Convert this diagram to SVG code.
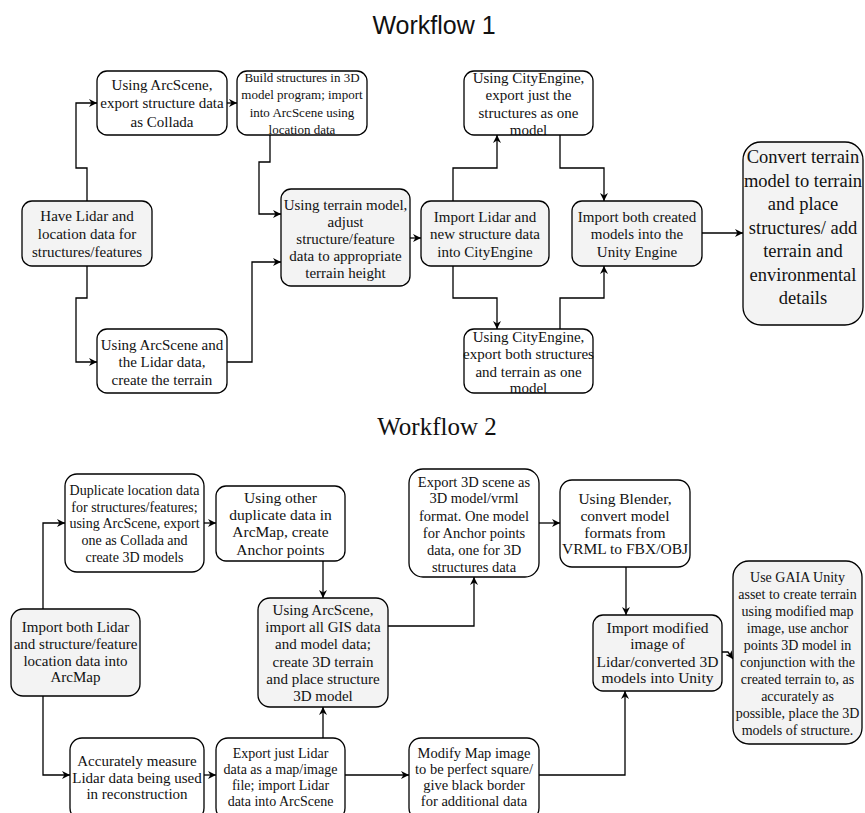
<svg xmlns="http://www.w3.org/2000/svg" width="865" height="813" viewBox="0 0 865 813">
<defs>
<marker id="arr" viewBox="0 0 10 10" refX="10" refY="5" markerWidth="8" markerHeight="8" markerUnits="userSpaceOnUse" orient="auto">
<path d="M0,0 L10,5 L0,10 L3,5 z" fill="#000"/>
</marker>
<style>
.w{fill:#fff;stroke:#000;stroke-width:1.3}
.g{fill:#f3f3f3;stroke:#000;stroke-width:1.3}
.t{font-family:"Liberation Serif","Times New Roman",serif;font-size:15px;fill:#111;text-anchor:middle}
.c path{fill:none;stroke:#000;stroke-width:1.3;marker-end:url(#arr)}
.title1{font-family:"Liberation Sans",Arial,sans-serif;font-size:25px;fill:#111;text-anchor:middle}
.title2{font-family:"Liberation Serif","Times New Roman",serif;font-size:25px;fill:#111;text-anchor:middle}
</style>
</defs>
<rect width="865" height="813" fill="#fff"/>
<text class="title1" x="434" y="34">Workflow 1</text>
<text class="title2" x="437" y="435">Workflow 2</text>

<g class="c" id="connectors">
<path d="M87,201 V168 H76 V103 H97"/>
<path d="M87,266 V298 H76 V362 H97"/>
<path d="M227,103 H237"/>
<path d="M270,135 V162 H259 V214 H281"/>
<path d="M227,362 H252 V262 H281"/>
<path d="M410,238 H421"/>
<path d="M453,201 V168 H497 V135"/>
<path d="M453,266 V298 H497 V329"/>
<path d="M560,135 V168 H604 V201"/>
<path d="M560,329 V298 H604 V266"/>
<path d="M702,233 H743"/>
<path d="M43,609 V523 H65"/>
<path d="M43,696 V775 H70"/>
<path d="M204,523 H216"/>
<path d="M204,775 H216"/>
<path d="M323,561 V598"/>
<path d="M323,738 V707"/>
<path d="M388,626 H474 V577"/>
<path d="M539,523 H560"/>
<path d="M626,567 V615"/>
<path d="M345,775 H409"/>
<path d="M539,775 H625 V691"/>
<path d="M722,652 H728 L733,659"/>
</g>

<g id="n1"><rect class="w" x="97" y="71" width="130" height="64" rx="10"/>
<text class="t"><tspan x="162" y="90">Using ArcScene,</tspan><tspan x="162" y="108">export structure data</tspan><tspan x="162" y="127">as Collada</tspan></text></g>

<g id="n2"><rect class="w" x="237" y="71" width="130" height="64" rx="10"/>
<text class="t" style="font-size:13px"><tspan x="302" y="82">Build structures in 3D</tspan><tspan x="302" y="99">model program; import</tspan><tspan x="302" y="117">into ArcScene using</tspan><tspan x="302" y="134">location data</tspan></text></g>

<g id="n3"><rect class="g" x="22" y="201" width="130" height="65" rx="10"/>
<text class="t"><tspan x="87" y="221">Have Lidar and</tspan><tspan x="87" y="239">location data for</tspan><tspan x="87" y="257">structures/features</tspan></text></g>

<g id="n4"><rect class="w" x="97" y="329" width="130" height="64" rx="10"/>
<text class="t"><tspan x="162" y="350">Using ArcScene and</tspan><tspan x="162" y="367">the Lidar data,</tspan><tspan x="162" y="385">create the terrain</tspan></text></g>

<g id="n5"><rect class="g" x="281" y="189" width="129" height="97" rx="10"/>
<text class="t"><tspan x="345.5" y="210">Using terrain model,</tspan><tspan x="345.5" y="227">adjust</tspan><tspan x="345.5" y="244">structure/feature</tspan><tspan x="345.5" y="261">data to appropriate</tspan><tspan x="345.5" y="278">terrain height</tspan></text></g>

<g id="n6"><rect class="g" x="421" y="201" width="128" height="65" rx="10"/>
<text class="t"><tspan x="485" y="222">Import Lidar and</tspan><tspan x="485" y="239">new structure data</tspan><tspan x="485" y="257">into CityEngine</tspan></text></g>

<g id="n7"><rect class="w" x="464" y="71" width="129" height="64" rx="10"/>
<text class="t"><tspan x="528.5" y="83">Using CityEngine,</tspan><tspan x="528.5" y="100">export just the</tspan><tspan x="528.5" y="118">structures as one</tspan><tspan x="528.5" y="135">model</tspan></text></g>

<g id="n8"><rect class="w" x="464" y="329" width="129" height="64" rx="10"/>
<text class="t"><tspan x="528.5" y="342">Using CityEngine,</tspan><tspan x="528.5" y="359">export both structures</tspan><tspan x="528.5" y="377">and terrain as one</tspan><tspan x="528.5" y="393">model</tspan></text></g>

<g id="n9"><rect class="g" x="572" y="201" width="130" height="65" rx="10"/>
<text class="t"><tspan x="637" y="222">Import both created</tspan><tspan x="637" y="239">models into the</tspan><tspan x="637" y="257">Unity Engine</tspan></text></g>

<g id="n10"><rect class="g" x="743" y="142" width="120" height="183" rx="18"/>
<text class="t" style="font-size:18.5px"><tspan x="803" y="163">Convert terrain</tspan><tspan x="803" y="186.5">model to terrain</tspan><tspan x="803" y="210">and place</tspan><tspan x="803" y="233.5">structures/ add</tspan><tspan x="803" y="257">terrain and</tspan><tspan x="803" y="280.5">environmental</tspan><tspan x="803" y="304">details</tspan></text></g>

<g id="m1"><rect class="w" x="65" y="474" width="139" height="98" rx="12"/>
<text class="t" style="font-size:14px"><tspan x="134.5" y="495">Duplicate location data</tspan><tspan x="134.5" y="512">for structures/features;</tspan><tspan x="134.5" y="528">using ArcScene, export</tspan><tspan x="134.5" y="545">one as Collada and</tspan><tspan x="134.5" y="562">create 3D models</tspan></text></g>

<g id="m2"><rect class="w" x="216" y="486" width="129" height="75" rx="10"/>
<text class="t" style="font-size:15.5px"><tspan x="280.5" y="503">Using other</tspan><tspan x="280.5" y="520">duplicate data in</tspan><tspan x="280.5" y="537">ArcMap, create</tspan><tspan x="280.5" y="555">Anchor points</tspan></text></g>

<g id="m3"><rect class="g" x="11" y="609" width="129" height="87" rx="12"/>
<text class="t"><tspan x="75.5" y="632">Import both Lidar</tspan><tspan x="75.5" y="649">and structure/feature</tspan><tspan x="75.5" y="666">location data into</tspan><tspan x="75.5" y="682">ArcMap</tspan></text></g>

<g id="m4"><rect class="g" x="258" y="598" width="130" height="109" rx="12"/>
<text class="t"><tspan x="323" y="615">Using ArcScene,</tspan><tspan x="323" y="632">import all GIS data</tspan><tspan x="323" y="649">and model data;</tspan><tspan x="323" y="667">create 3D terrain</tspan><tspan x="323" y="684">and place structure</tspan><tspan x="323" y="701">3D model</tspan></text></g>

<g id="m5"><rect class="w" x="70" y="738" width="134" height="82" rx="12"/>
<text class="t"><tspan x="137" y="766">Accurately measure</tspan><tspan x="137" y="783">Lidar data being used</tspan><tspan x="137" y="799">in reconstruction</tspan></text></g>

<g id="m6"><rect class="w" x="216" y="738" width="129" height="82" rx="12"/>
<text class="t" style="font-size:14px"><tspan x="280.5" y="758">Export just Lidar</tspan><tspan x="280.5" y="774">data as a map/image</tspan><tspan x="280.5" y="790">file; import Lidar</tspan><tspan x="280.5" y="806">data into ArcScene</tspan></text></g>

<g id="m7"><rect class="w" x="409" y="738" width="130" height="82" rx="12"/>
<text class="t" style="font-size:14.5px"><tspan x="474" y="758">Modify Map image</tspan><tspan x="474" y="774">to be perfect square/</tspan><tspan x="474" y="790">give black border</tspan><tspan x="474" y="806">for additional data</tspan></text></g>

<g id="m8"><rect class="w" x="409" y="469" width="130" height="108" rx="14"/>
<text class="t" style="font-size:14.5px"><tspan x="474" y="487">Export 3D scene as</tspan><tspan x="474" y="503">3D model/vrml</tspan><tspan x="474" y="521">format. One model</tspan><tspan x="474" y="538">for Anchor points</tspan><tspan x="474" y="555">data, one for 3D</tspan><tspan x="474" y="572">structures data</tspan></text></g>

<g id="m9"><rect class="w" x="560" y="480" width="130" height="87" rx="12"/>
<text class="t" style="font-size:15.5px"><tspan x="625" y="504">Using Blender,</tspan><tspan x="625" y="521">convert model</tspan><tspan x="625" y="538">formats from</tspan><tspan x="625" y="554">VRML to FBX/OBJ</tspan></text></g>

<g id="m10"><rect class="g" x="593" y="615" width="129" height="76" rx="10"/>
<text class="t" style="font-size:15.5px"><tspan x="657.5" y="633">Import modified</tspan><tspan x="657.5" y="649">image of</tspan><tspan x="657.5" y="667">Lidar/converted 3D</tspan><tspan x="657.5" y="683">models into Unity</tspan></text></g>

<g id="m11"><rect class="g" x="733" y="561" width="129" height="183" rx="16"/>
<text class="t" style="font-size:14px"><tspan x="797.5" y="582">Use GAIA Unity</tspan><tspan x="797.5" y="599">asset to create terrain</tspan><tspan x="797.5" y="616">using modified map</tspan><tspan x="797.5" y="633">image, use anchor</tspan><tspan x="797.5" y="650">points 3D model in</tspan><tspan x="797.5" y="667">conjunction with the</tspan><tspan x="797.5" y="684">created terrain to, as</tspan><tspan x="797.5" y="701">accurately as</tspan><tspan x="797.5" y="718">possible, place the 3D</tspan><tspan x="797.5" y="735">models of structure.</tspan></text></g>
</svg>
